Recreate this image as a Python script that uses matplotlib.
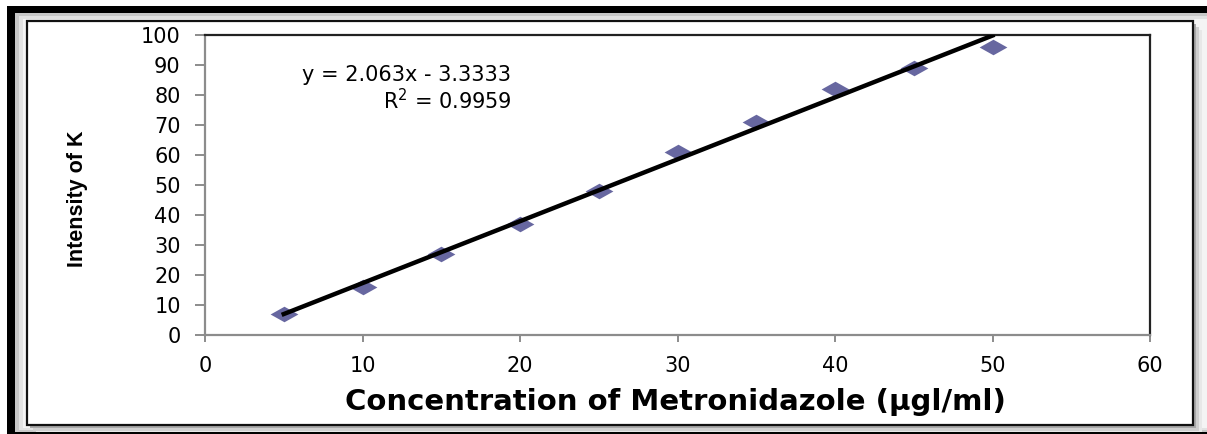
import numpy as np
import matplotlib
matplotlib.use("Agg")
import matplotlib.pyplot as plt
from matplotlib.patches import Rectangle

# calibration data
conc = [5, 10, 15, 20, 25, 30, 35, 40, 45, 50]
intensity = [7, 16, 27, 37, 48, 61, 71, 82, 89, 96]

# linear fit reported on the chart
slope = 2.063
intercept = -3.3333
r2 = 0.9959

x_ticks = [0, 10, 20, 30, 40, 50, 60]
y_ticks = [0, 10, 20, 30, 40, 50, 60, 70, 80, 90, 100]

W, H = 1207, 434
fig = plt.figure(figsize=(W / 100, H / 100), dpi=100)


def box(x0, y0, x1, y1, **kw):
    # rectangle in pixel units, y measured from the top edge
    r = Rectangle((x0 / W, 1 - y1 / H), (x1 - x0) / W, (y1 - y0) / H,
                  transform=fig.transFigure, zorder=-5, **kw)
    fig.add_artist(r)
    return r


# picture frame: thick black band, grey bevel, inner white panel with shadow
box(15, 13, W, 432, facecolor="#c8c8c8", edgecolor="none")
box(19, 16, W, 430, facecolor="#e2e2e2", edgecolor="none")
box(23, 19, W, 428, facecolor="#f4f4f4", edgecolor="none")
for off, c in [(9, "#e8e8e8"), (6, "#cfcfcf"), (3, "#a8a8a8")]:
    box(27 + off, 21 + off, 1193 + off, 425 + off, facecolor=c, edgecolor="none")
box(27, 21, 1193, 425, facecolor="white", edgecolor="#111111", linewidth=1.6)
box(7, 6, W, 13, facecolor="black", edgecolor="none")
box(7, 6, 15, H, facecolor="black", edgecolor="none")
box(7, 432, W, H, facecolor="black", edgecolor="none")

ax = fig.add_axes([205 / W, 1 - 335 / H, 945 / W, 300 / H])
ax.set_zorder(2)
ax.set_facecolor("white")

diamond = [(-1, 0), (0, 0.56), (1, 0), (0, -0.56), (-1, 0)]
ax.plot(conc, intensity, linestyle="none", marker=diamond, markersize=20,
        color="#6767a0", markeredgewidth=0, zorder=3)

xf = np.array([conc[0], conc[-1]])
ax.plot(xf, slope * xf + intercept, color="black", linewidth=3.2, zorder=4)

ax.set_xlim(0, 60)
ax.set_ylim(0, 100)
ax.set_xticks(x_ticks)
ax.set_yticks(y_ticks)

for s in ["left", "bottom"]:
    ax.spines[s].set_color("#8c8c8c")
    ax.spines[s].set_linewidth(1.6)
for s in ["top", "right"]:
    ax.spines[s].set_color("#222222")
    ax.spines[s].set_linewidth(1.6)

ax.tick_params(axis="y", direction="out", length=7.5, width=1.4, color="#8c8c8c",
               pad=10, labelsize=15)
ax.tick_params(axis="x", direction="out", length=5, width=1.4, color="#8c8c8c",
               pad=10, labelsize=15)

ax.text(19.4, 86.7, "y = 2.063x - 3.3333", ha="right", va="center", fontsize=15)
ax.text(19.4, 78.3, "R$^2$ = " + f"{r2:.4f}", ha="right", va="center", fontsize=15)

fig.text(78 / W, 1 - 199 / H, "Intensity of K", rotation=90, ha="center", va="center",
         fontsize=15.5, fontweight="bold", family="Liberation Sans")
fig.text(675 / W, 1 - 402 / H, "Concentration of Metronidazole (µgl/ml)",
         ha="center", va="center", fontsize=21, fontweight="bold")

fig.savefig("out.png", dpi=100)
